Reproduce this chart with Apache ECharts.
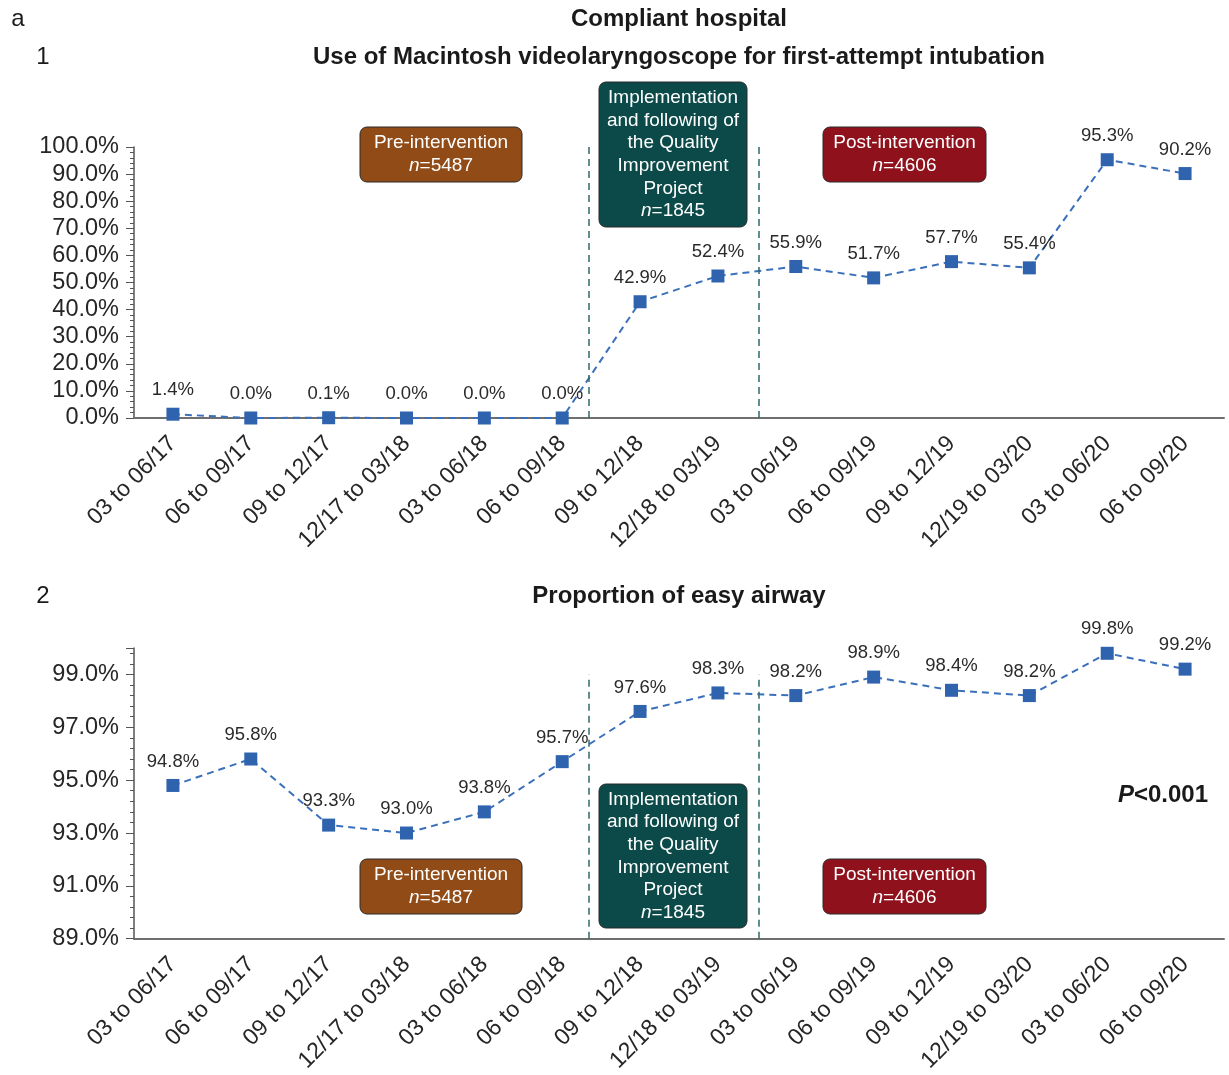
<!DOCTYPE html>
<html>
<head>
<meta charset="utf-8">
<script src="https://cdn.jsdelivr.net/npm/echarts@6/dist/echarts.min.js"></script>
<style>
  html, body { margin: 0; padding: 0; background: #fff; }
  #chart { width: 1229px; height: 1075px; }
</style>
</head>
<body>
<div id="chart"></div>
<script>
// quarters on the x axis
const periods = [
  '03 to 06/17', '06 to 09/17', '09 to 12/17', '12/17 to 03/18', '03 to 06/18', '06 to 09/18',
  '09 to 12/18', '12/18 to 03/19', '03 to 06/19', '06 to 09/19', '09 to 12/19', '12/19 to 03/20',
  '03 to 06/20', '06 to 09/20'
]
// panel 1: use of Macintosh videolaryngoscope (%)
const macintoshUse = [1.4, 0.0, 0.1, 0.0, 0.0, 0.0, 42.9, 52.4, 55.9, 51.7, 57.7, 55.4, 95.3, 90.2]
// panel 2: proportion of easy airway (%)
const easyAirway = [94.8, 95.8, 93.3, 93.0, 93.8, 95.7, 97.6, 98.3, 98.2, 98.9, 98.4, 98.2, 99.8, 99.2]
// phase boundaries, in category units (0 = first quarter)
const phaseBreaks = [5.34, 7.52]

const FONT = '"Liberation Sans", Arial, sans-serif'
const BLUE = '#2f63ad'
const TEAL = '#2e6b68'

const fmtPct = v => v.toFixed(1) + '%'

const xCat = gridIndex => ({
  type: 'category',
  gridIndex,
  data: periods,
  axisTick: { show: false },
  axisLine: { lineStyle: { color: '#6f6f6f', width: 2 } },
  axisLabel: { rotate: 45, margin: 22, fontSize: 23, color: '#262626', fontFamily: FONT, interval: 0 }
})
// hidden value axis over the same grid, only used to place the phase lines
const xVal = gridIndex => ({
  type: 'value', gridIndex, min: -0.5, max: periods.length - 0.5, show: false
})
const yVal = (gridIndex, min, max, interval) => ({
  type: 'value',
  gridIndex, min, max, interval,
  splitLine: { show: false },
  axisLine: { show: true, onZero: false, lineStyle: { color: '#555', width: 1.5 } },
  axisTick: { show: true, length: 8, lineStyle: { color: '#555' } },
  minorTick: { show: true, splitNumber: 5, length: 4, lineStyle: { color: '#555' } },
  axisLabel: { fontSize: 23.5, color: '#262626', fontFamily: FONT, margin: 15, formatter: fmtPct, showMaxLabel: gridIndex === 0 }
})

const lineSeries = (idx, data) => ({
  type: 'line',
  xAxisIndex: idx, yAxisIndex: idx,
  data,
  clip: false,
  symbol: 'rect',
  symbolSize: 13,
  itemStyle: { color: BLUE },
  lineStyle: { color: '#3a70bb', width: 2, type: [7, 5] },
  label: { show: true, position: 'top', distance: 8, fontSize: 18.5, color: '#2a2a2a', fontFamily: FONT, formatter: p => fmtPct(p.value) }
})

const phaseSeries = (idx, yMin, yMax) => ({
  type: 'line',
  xAxisIndex: idx + 2, yAxisIndex: idx,
  data: [],
  markLine: {
    silent: true,
    symbol: 'none',
    label: { show: false },
    lineStyle: { color: TEAL, width: 1.5, type: [7, 5] },
    data: phaseBreaks.map(b => [{ coord: [b, yMin] }, { coord: [b, yMax] }])
  }
})

// annotation boxes
const box = (x, y, w, h, fill, text) => ({
  type: 'group', x, y,
  children: [
    { type: 'rect', shape: { x: 0, y: 0, width: w, height: h, r: 7 }, style: { fill, stroke: '#2b2b2b', lineWidth: 1 } },
    { type: 'text', x: w / 2, y: h / 2,
      style: { text, fill: '#fff', font: '19px ' + FONT, align: 'center', verticalAlign: 'middle', lineHeight: 22.6,
        rich: { i: { fontStyle: 'italic', fill: '#fff', fontSize: 19, fontFamily: FONT, lineHeight: 22.6 } } } }
  ]
})
const preTxt = 'Pre-intervention\n{i|n}=5487'
const qipTxt = 'Implementation\nand following of\nthe Quality\nImprovement\nProject\n{i|n}=1845'
const postTxt = 'Post-intervention\n{i|n}=4606'

const txt = (x, y, text, font, align) => ({
  type: 'text', x, y, style: { text, font, fill: '#1a1a1a', align: align || 'center', verticalAlign: 'middle' }
})

const option = {
  backgroundColor: '#fff',
  animation: false,
  grid: [
    { left: 134, right: 5, top: 147, height: 271 },
    { left: 134, right: 5, top: 648, height: 295 }
  ],
  xAxis: [xCat(0), xCat(1), xVal(0), xVal(1)],
  yAxis: [yVal(0, 0, 100, 10), yVal(1, 89, 100, 2)],
  series: [
    lineSeries(0, macintoshUse),
    lineSeries(1, easyAirway),
    phaseSeries(0, 0, 100),
    phaseSeries(1, 89, 99)
  ],
  graphic: [
    txt(18, 19, 'a', '24px ' + FONT),
    txt(679, 19, 'Compliant hospital', 'bold 24px ' + FONT),
    txt(43, 57, '1', '24px ' + FONT),
    txt(679, 57, 'Use of Macintosh videolaryngoscope for first-attempt intubation', 'bold 24px ' + FONT),
    txt(43, 596, '2', '24px ' + FONT),
    txt(679, 596, 'Proportion of easy airway', 'bold 24px ' + FONT),
    { type: 'text', x: 1208, y: 795,
      style: { text: '{i|P}<0.001', font: 'bold 24px ' + FONT, fill: '#1a1a1a', align: 'right', verticalAlign: 'middle',
        rich: { i: { fontStyle: 'italic', fontWeight: 'bold', fontSize: 24, fontFamily: FONT, fill: '#1a1a1a' } } } },
    box(360, 127, 162, 55, '#914b16', preTxt),
    box(599, 82, 148, 145, '#0b4a48', qipTxt),
    box(823, 127, 163, 55, '#8f111c', postTxt),
    box(360, 859, 162, 55, '#914b16', preTxt),
    box(599, 784, 148, 144, '#0b4a48', qipTxt),
    box(823, 859, 163, 55, '#8f111c', postTxt)
  ]
}

const chart = echarts.init(document.getElementById('chart'), null, { renderer: 'canvas' })
chart.setOption(option)
</script>
</body>
</html>
